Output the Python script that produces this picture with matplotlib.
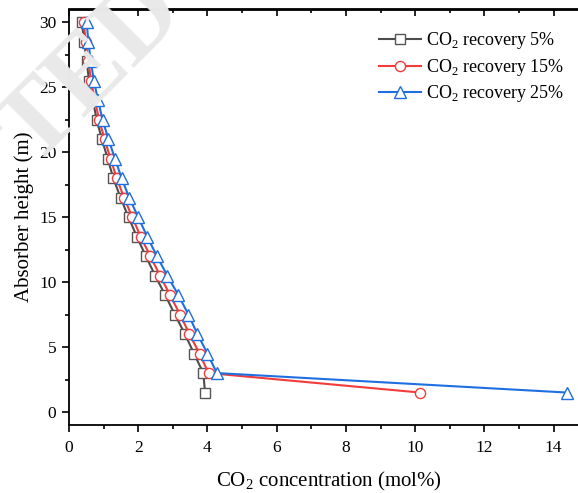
import matplotlib
matplotlib.use("Agg")
import matplotlib.pyplot as plt
from matplotlib.ticker import MultipleLocator

plt.rcParams['font.family'] = ['Liberation Serif', 'DejaVu Serif']
plt.rcParams['mathtext.fontset'] = 'custom'
plt.rcParams['mathtext.rm'] = 'Liberation Serif'

# absorber height (m), bottom to top
height = [1.5, 3, 4.5, 6, 7.5, 9, 10.5, 12, 13.5, 15,
          16.5, 18, 19.5, 21, 22.5, 24, 25.5, 27, 28.5, 30]
# CO2 concentration (mol%) for each recovery
rec5 = [3.93, 3.88, 3.61, 3.35, 3.06, 2.78, 2.49, 2.22, 1.96, 1.72,
        1.49, 1.28, 1.12, 0.95, 0.80, 0.69, 0.58, 0.51, 0.44, 0.37]
rec15 = [10.14, 4.03, 3.77, 3.48, 3.21, 2.92, 2.63, 2.35, 2.07, 1.83,
         1.59, 1.38, 1.20, 1.03, 0.87, 0.75, 0.64, 0.56, 0.49, 0.42]
rec25 = [14.38, 4.27, 4.00, 3.71, 3.45, 3.16, 2.84, 2.54, 2.26, 2.00,
         1.74, 1.52, 1.33, 1.14, 0.97, 0.84, 0.72, 0.63, 0.56, 0.51]

labels = ['CO$_2$ recovery 5%', 'CO$_2$ recovery 15%', 'CO$_2$ recovery 25%']

fig = plt.figure(figsize=(5.78, 4.93), dpi=100)

# faint watermark behind the plot (only the tail of it shows in the original)
fig.text(92 / 578, 1 - 72 / 493, 'TED', fontsize=76, fontweight='bold',
         color='#e9e9e9', rotation=45, rotation_mode='anchor',
         ha='center', va='center', zorder=0)

ax = fig.add_axes([69 / 578, 68 / 493, (15 * 34.62) / 578, (425 - 9.5) / 493])
ax.patch.set_alpha(0)

ax.plot(rec5, height, color='#4d4d4d', lw=1.5, marker='s', ms=6.7,
        mfc='white', mec='#555555', mew=1.0, label=labels[0], zorder=3)
ax.plot(rec15, height, color='#f23b3b', lw=1.5, marker='o', ms=7.3,
        mfc='white', mec='#f23b3b', mew=1.0, label=labels[1], zorder=4)
ax.plot(rec25, height, color='#1f6fe0', lw=1.5, marker='^', ms=9,
        mfc='white', mec='#1f6fe0', mew=1.0, label=labels[2], zorder=5)

ax.set_xlim(0, 15)
ax.set_ylim(-1, 31)
ax.xaxis.set_major_locator(MultipleLocator(2))
ax.xaxis.set_minor_locator(MultipleLocator(1))
ax.yaxis.set_major_locator(MultipleLocator(5))
ax.yaxis.set_minor_locator(MultipleLocator(2.5))
ax.tick_params(which='both', direction='out', labelsize=12.5, width=1.2)
ax.tick_params(which='major', length=5)
ax.tick_params(which='minor', length=3)
ax.tick_params(axis='x', pad=6)
ax.tick_params(axis='y', pad=4)
for s in ax.spines.values():
    s.set_linewidth(1.3)

top = ax.secondary_xaxis('top')
top.xaxis.set_major_locator(MultipleLocator(2))
top.xaxis.set_minor_locator(MultipleLocator(1))
top.tick_params(which='both', direction='in', labeltop=False, width=1.2)
top.tick_params(which='major', length=5)
top.tick_params(which='minor', length=3)
top.spines['top'].set_linewidth(1.3)

ax.set_xlabel('CO$_2$ concentration (mol%)', fontsize=15, labelpad=10)
ax.set_ylabel('Absorber height (m)', fontsize=15, labelpad=4)

ax.legend(loc='upper left', bbox_to_anchor=(0.584, 0.967), frameon=False,
          fontsize=13, handlelength=2.3, handletextpad=0.25, labelspacing=0.3,
          borderaxespad=0)

fig.savefig('out.png', dpi=100)
